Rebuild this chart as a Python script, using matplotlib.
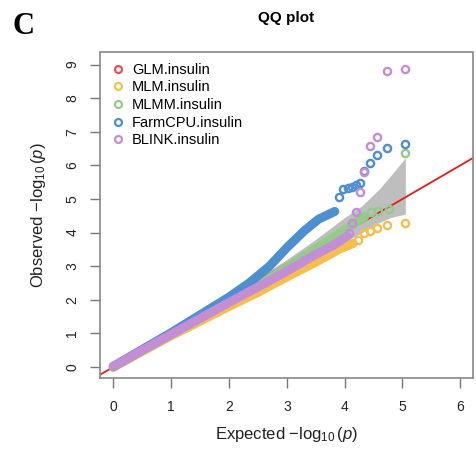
import matplotlib
matplotlib.use("Agg")
import matplotlib.pyplot as plt
from matplotlib.lines import Line2D

plt.rcParams["font.family"] = ["Liberation Sans", "DejaVu Sans"]
plt.rcParams["mathtext.fontset"] = "custom"
plt.rcParams["mathtext.rm"] = "Liberation Sans"
plt.rcParams["mathtext.it"] = "Liberation Sans:italic"

MODELS = ["GLM.insulin", "MLM.insulin", "MLMM.insulin", "FarmCPU.insulin", "BLINK.insulin"]
COLORS = ["#E8505B", "#F5BF4F", "#93CC8A", "#4E8FD0", "#C48ED4"]

# bulk of each QQ trace (overlapping points, drawn as a thick band)
glm_x = [0.0, 1.0, 2.0, 3.0, 3.6]
glm_y = [0.0, 0.98, 1.95, 2.95, 3.5]
mlm_x = [0.0, 1.0, 2.0, 2.5, 3.0, 3.5, 3.9, 4.15]
mlm_y = [0.0, 0.93, 1.8, 2.22, 2.68, 3.12, 3.5, 3.68]
mlmm_x = [0.0, 1.0, 2.0, 2.5, 3.0, 3.5, 4.0, 4.35]
mlmm_y = [0.0, 0.98, 1.95, 2.43, 2.95, 3.52, 4.08, 4.48]
farm_x = [0.0, 1.0, 1.5, 2.0, 2.35, 2.7, 3.0, 3.3, 3.55, 3.83]
farm_y = [0.02, 1.02, 1.55, 2.08, 2.5, 3.0, 3.55, 4.05, 4.4, 4.63]
blink_x = [0.0, 1.0, 2.0, 2.5, 3.0, 3.5, 3.8, 4.05]
blink_y = [0.02, 0.97, 1.92, 2.38, 2.85, 3.35, 3.62, 3.9]

# sparse upper tail, drawn as individual open circles
mlm_tail_x = [4.23, 4.33, 4.44, 4.56, 4.73, 5.04]
mlm_tail_y = [3.78, 3.98, 4.06, 4.13, 4.23, 4.30]
mlmm_tail_x = [4.45, 4.58, 4.76, 5.04]
mlmm_tail_y = [4.60, 4.65, 4.70, 6.37]
farm_tail_x = [3.90, 3.98, 4.05, 4.13, 4.20, 4.27, 4.33, 4.44, 4.56, 4.73, 5.04]
farm_tail_y = [5.07, 5.30, 5.33, 5.37, 5.42, 5.47, 5.82, 6.06, 6.32, 6.53, 6.65]
blink_tail_x = [4.07, 4.13, 4.20, 4.27, 4.34, 4.44, 4.56, 4.73, 5.04]
blink_tail_y = [3.98, 4.28, 4.60, 5.20, 5.80, 6.57, 6.86, 8.82, 8.88]

# confidence band around the null expectation
band_x = [2.0, 2.5, 3.0, 3.5, 4.0, 4.3, 4.6, 4.8, 5.05]
band_lo = [1.93, 2.38, 2.82, 3.25, 3.72, 4.0, 4.3, 4.45, 4.55]
band_hi = [2.08, 2.65, 3.2, 3.8, 4.45, 4.8, 5.3, 5.7, 6.22]

bulk = [(glm_x, glm_y), (mlm_x, mlm_y), (mlmm_x, mlmm_y), (farm_x, farm_y), (blink_x, blink_y)]
tails = [([], []), (mlm_tail_x, mlm_tail_y), (mlmm_tail_x, mlmm_tail_y),
         (farm_tail_x, farm_tail_y), (blink_tail_x, blink_tail_y)]

fig = plt.figure(figsize=(4.76, 4.5), dpi=100)
ax = fig.add_axes([100 / 476, 72 / 450, 373 / 476, 325.5 / 450])

ax.fill_between(band_x, band_lo, band_hi, color="#BEBEBE", linewidth=0, zorder=1)
ax.axline((0, 0), slope=1, color="#E41A1C", linewidth=1.3, zorder=2)

for (bx, by), (tx, ty), c in zip(bulk, tails, COLORS):
    ax.plot(bx, by, color=c, linewidth=6.5, solid_capstyle="round",
            solid_joinstyle="round", zorder=3)
    ax.plot(tx, ty, linestyle="none", marker="o", markersize=5.2, markeredgewidth=1.7,
            markerfacecolor="none", markeredgecolor=c, zorder=4)

ax.set_xlim(-0.23, 6.22)
ax.set_ylim(-0.327, 9.36)
ax.set_xticks(range(0, 7))
ax.set_yticks(range(0, 10))
for lab in ax.get_yticklabels():
    lab.set_rotation(90)
    lab.set_va("center")
ax.tick_params(axis="both", direction="out", length=7, width=1.0, color="#777777",
               labelsize=10, labelcolor="#222222")
ax.tick_params(axis="x", pad=9)
ax.tick_params(axis="y", pad=8)
for s in ax.spines.values():
    s.set_color("#888888")
    s.set_linewidth(1.2)

ax.set_xlabel(r"Expected $-\log_{10}(\mathit{p})$", fontsize=12, color="#222222", labelpad=8)
ax.set_ylabel(r"Observed $-\log_{10}(\mathit{p})$", fontsize=12, color="#222222", labelpad=12)

handles = [Line2D([], [], linestyle="none", marker="o", markersize=5, markeredgewidth=1.6,
                  markerfacecolor="none", markeredgecolor=c) for c in COLORS]
ax.legend(handles, MODELS, loc="upper left", frameon=False, fontsize=10.5,
          handlelength=1.0, handletextpad=0.5, labelspacing=0.25,
          borderaxespad=0.3, bbox_to_anchor=(0.0, 1.0))

fig.text(286 / 476, 1 - 18 / 450, "QQ plot", ha="center", va="center",
         fontsize=11, fontweight="bold")
fig.text(12 / 476, 1 - 27 / 450, "C", ha="left", va="center",
         fontsize=22, fontweight="bold", family="Liberation Serif")

fig.savefig("out.png", dpi=100)
